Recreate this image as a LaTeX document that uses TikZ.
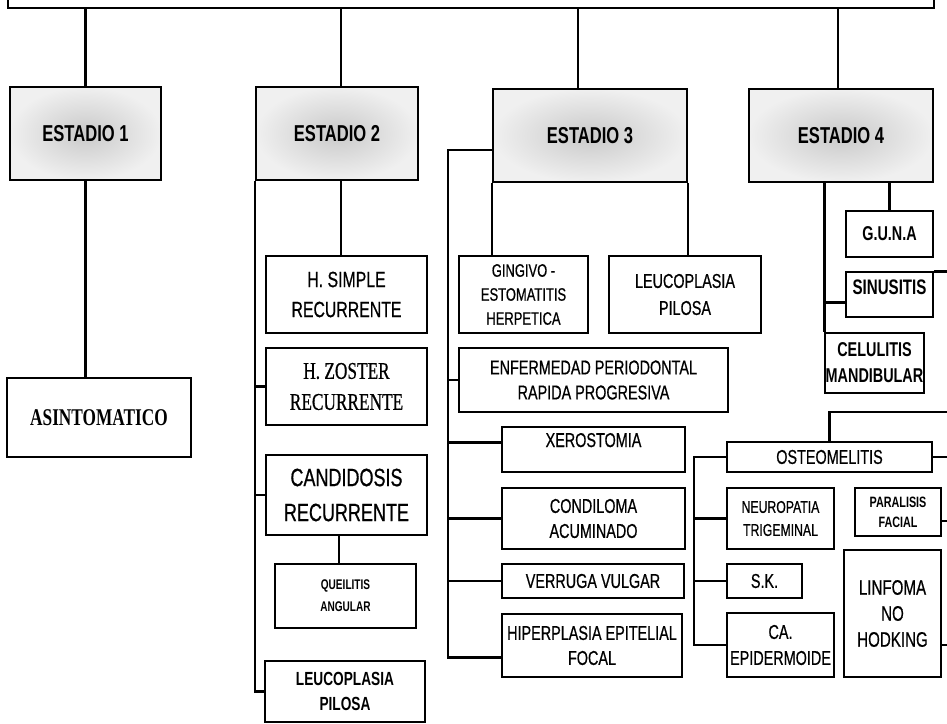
\documentclass[tikz,border=0pt]{standalone}
\usepackage{fontspec}
\newfontfamily\cnd[FakeStretch=0.72, UprightFeatures={FakeBold=0.6}]{Liberation Sans}
\newfontfamily\cndserif[FakeStretch=0.72, UprightFeatures={FakeBold=0.6}]{Liberation Serif}
\newcommand\fsz[2]{\fontsize{#1}{#2}\selectfont}
\tikzset{
  wh/.style 2 args={minimum width=#1, minimum height=#2},
  sz/.style 2 args={font=\cnd\fsz{#1}{#2}},
  bsz/.style 2 args={font=\cnd\bfseries\fsz{#1}{#2}},
  rsz/.style 2 args={font=\cndserif\fsz{#1}{#2}},
  itembox/.style={draw, line width=1.8pt, fill=white, align=center, inner sep=0pt},
  stagebox/.style={draw, line width=2pt, inner color=gray!42, outer color=gray!12,
    inner sep=0pt, font=\cnd\bfseries\fsz{23}{28}},
  link/.style={line width=2.8pt},
}
\begin{document}
\begin{tikzpicture}[x=1pt,y=-1pt]
\useasboundingbox (0,0) rectangle (947,723);

% main box and stages
\node[draw, line width=2.4pt, wh={926}{60}] (top) at (471,-22) {};
\node[stagebox, wh={151}{93}] (e1) at (85.5,133.5) {ESTADIO 1};
\node[stagebox, wh={162}{93}] (e2) at (337,133.5) {ESTADIO 2};
\node[stagebox, wh={194}{93}] (e3) at (590,135.5) {ESTADIO 3};
\node[stagebox, wh={184}{93}] (e4) at (841,135.5) {ESTADIO 4};

% estadio 1
\node[itembox, wh={184}{79}, font=\cndserif\bfseries\fsz{24}{28}] (asin) at (99,417.5) {ASINTOMATICO};

% estadio 2
\node[itembox, wh={161}{77}, sz={22}{30}] (hsim) at (346.5,294.5) {H. SIMPLE\\RECURRENTE};
\node[itembox, wh={161}{77}, rsz={24}{31}] (hzos) at (346.5,386.5) {H. ZOSTER\\RECURRENTE};
\node[itembox, wh={161}{80}, sz={25}{35}] (cand) at (346.5,495) {CANDIDOSIS\\RECURRENTE};
\node[itembox, wh={141}{64}, bsz={14}{22}] (quei) at (345.5,596) {QUEILITIS\\ANGULAR};
\node[itembox, wh={160}{61}, bsz={19}{25}] (lpil2) at (345,691.5) {LEUCOPLASIA\\PILOSA};

% estadio 3
\node[itembox, wh={129}{77}, sz={18}{24}] (gin) at (523.5,294.5) {GINGIVO -\\ESTOMATITIS\\HERPETICA};
\node[itembox, wh={152}{77}, sz={20}{27}] (lpil3) at (685,294.5) {LEUCOPLASIA\\PILOSA};
\node[itembox, wh={269}{64}, sz={20}{25}] (enf) at (593.5,380) {ENFERMEDAD PERIODONTAL\\RAPIDA PROGRESIVA};
\node[itembox, wh={183}{45}, sz={20}{25}, text height=15pt, text depth=20pt] (xer) at (593.5,449.5) {XEROSTOMIA};
\node[itembox, wh={183}{61}, sz={20}{25}] (cond) at (593.5,518.5) {CONDILOMA\\ACUMINADO};
\node[itembox, wh={182}{34}, sz={20}{25}] (verr) at (593,581) {VERRUGA VULGAR};
\node[itembox, wh={180}{63}, sz={20}{25}] (hip) at (592,645.5) {HIPERPLASIA EPITELIAL\\FOCAL};

% estadio 4
\node[itembox, wh={87}{46}, bsz={20}{25}] (guna) at (889.5,234) {G.U.N.A};
\node[itembox, wh={87}{45}, bsz={21}{25}, text height=15pt, text depth=15pt] (sinu) at (889.5,294.5) {SINUSITIS};
\node[itembox, wh={99}{60}, bsz={20}{26}] (celu) at (874.5,363) {CELULITIS\\MANDIBULAR};
\node[itembox, wh={205}{30}, sz={20}{25}] (ost) at (829.5,457) {OSTEOMELITIS};
\node[itembox, wh={107}{61}, sz={17}{23}] (neu) at (780.5,518.5) {NEUROPATIA\\TRIGEMINAL};
\node[itembox, wh={75}{34}, sz={20}{25}] (sk) at (764.5,581) {S.K.};
\node[itembox, wh={107}{64}, sz={20}{26}] (ca) at (780.5,645) {CA.\\EPIDERMOIDE};
\node[itembox, wh={86}{48}, bsz={15}{20}] (par) at (898,512) {PARALISIS\\FACIAL};
\node[itembox, wh={97}{127}, sz={21}{26}] (lin) at (892.5,613.5) {LINFOMA\\NO\\HODKING};

% free ends and spines
\coordinate (rim) at (950,0);
\coordinate (s3) at (448,150);
\coordinate (s5) at (694,0);
\coordinate (ostbar) at (950,412);
\coordinate (xert) at ([yshift=7]xer.west);
\coordinate (hipt) at ([yshift=-12]hip.west);
\coordinate (sinut) at ([yshift=-8]sinu.west);
\coordinate (part) at ([yshift=-9]par.east);
\coordinate (lint) at ([yshift=-31.5]lin.east);

% main bar to stages
\foreach \s/\dx in {e1/0,e2/4,e3/-12,e4/-3}
  \draw[link] ([xshift=\dx]top.south -| \s.north) -- ([xshift=\dx]\s.north);

% estadio 1
\draw[link] (e1.south) -- (e1.south |- asin.north);

% estadio 2
\draw[link] ([xshift=4]e2.south) -- ([xshift=4]e2.south |- hsim.north);
\draw[link] (e2.south west) |- (lpil2.west);
\foreach \b in {hzos,cand}
  \draw[link] (e2.south west |- \b.west) -- (\b.west);
\draw[link] ([xshift=-7.5]cand.south) -- ([xshift=-7.5]cand.south |- quei.north);

% estadio 3
\draw[link] (e3.west |- s3) -- (s3) |- (hipt);
\draw[link] (s3 |- xert) -- (xert);
\foreach \b in {enf,cond,verr}
  \draw[link] (s3 |- \b.west) -- (\b.west);
\draw[link] (e3.south west) -- (e3.south west |- gin.north);
\draw[link] (e3.south east) -- (e3.south east |- lpil3.north);

% estadio 4
\draw[link] (e4.south -| celu.north west) -- (celu.north west);
\draw[link] (celu.north west |- sinut) -- (sinut);
\draw[link] (e4.south -| guna.north) -- (guna.north);
\draw[link] (sinu.north east) -- (sinu.north east -| rim);

% osteomelitis group
\draw[link] (ost.north) |- (ostbar);
\draw[link] (ost.east) -- (ost.east -| rim);
\draw[link] (ost.west) -- (ost.west -| s5) |- (ca.west);
\foreach \b in {neu,sk}
  \draw[link] (s5 |- \b.west) -- (\b.west);
\draw[link] (part) -- (part -| rim);
\draw[link] (lint) -- (lint -| rim);
\end{tikzpicture}
\end{document}
